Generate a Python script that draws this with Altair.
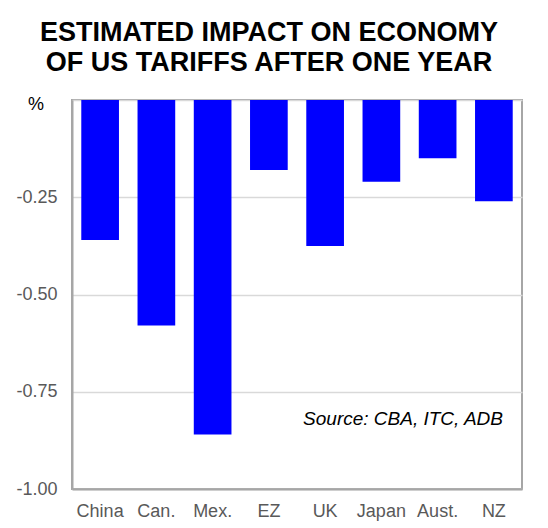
import pandas as pd
import altair as alt

# values
countries = ["China", "Can.", "Mex.", "EZ", "UK", "Japan", "Aust.", "NZ"]
impact = [-0.36, -0.58, -0.86, -0.18, -0.375, -0.21, -0.15, -0.26]
y_ticks = [-1.0, -0.75, -0.5, -0.25, 0.0]

title_lines = ["ESTIMATED IMPACT ON ECONOMY", "OF US TARIFFS AFTER ONE YEAR"]
source_note = "Source: CBA, ITC, ADB"

df = pd.DataFrame({"country": countries, "impact": impact})

FONT = "Liberation Sans"

bars = alt.Chart(df).mark_bar(color="#0000FF").encode(
    x=alt.X("country:N", sort=countries,
            scale=alt.Scale(paddingInner=0.33, paddingOuter=0.165),
            axis=alt.Axis(title=None, labelAngle=0, labelFont=FONT, labelFontSize=18,
                          labelColor="#595959", labelPadding=13, ticks=False,
                          domainColor="#a6a6a6", domainWidth=2, grid=False)),
    y=alt.Y("impact:Q",
            scale=alt.Scale(domain=[-1, 0], nice=False),
            axis=alt.Axis(title=None, values=y_ticks,
                          labelExpr="datum.value == 0 ? '' : '-' + format(abs(datum.value), '.2f')",
                          labelFont=FONT, labelFontSize=18, labelColor="#595959",
                          labelPadding=15, ticks=False,
                          domainColor="#a6a6a6", domainWidth=2,
                          gridColor="#d9d9d9", gridWidth=1.5)),
)

pct = alt.Chart(pd.DataFrame({"t": ["%"]})).mark_text(
    font=FONT, fontSize=18, color="#000000", align="center", baseline="middle", dy=5
).encode(x=alt.value(-36), y=alt.datum(0), text="t:N")

src = alt.Chart(pd.DataFrame({"t": [source_note]})).mark_text(
    font=FONT, fontSize=19, fontStyle="italic", color="#000000",
    align="right", baseline="middle"
).encode(x=alt.value(431), y=alt.datum(-0.82), text="t:N")

chart = (bars + pct + src).properties(
    width=450,
    height=389,
    autosize=alt.AutoSizeParams(type="none"),
    padding={"left": 64, "top": 92, "right": 18, "bottom": 36},
    title=alt.TitleParams(title_lines, font=FONT, fontSize=27, fontWeight="bold",
                          color="#000000", lineHeight=30, anchor="middle",
                          frame="bounds", offset=19),
).configure_view(stroke="#a6a6a6", strokeWidth=2)

chart.save("out.html", embed_options={"renderer": "svg", "actions": False})
